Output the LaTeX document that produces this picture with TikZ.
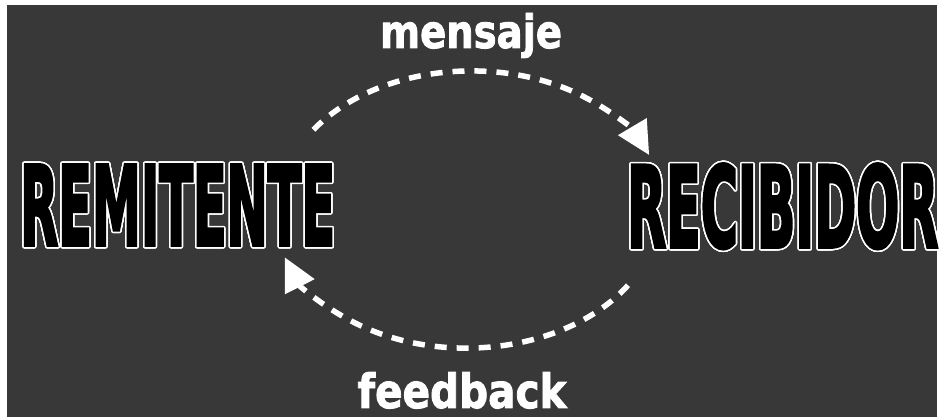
\documentclass[tikz,border=0pt]{standalone}
\usepackage{fontspec}
\usepackage{graphicx}
\usepackage{contour}
\usetikzlibrary{arrows.meta}

\newfontfamily\capsfont{DejaVu Sans Bold}[FakeBold=3.5]
\newfontfamily\labelfont{DejaVu Sans Bold}[FakeBold=2]
\definecolor{pizarra}{HTML}{383838}
\contourlength{1.5pt}
\contournumber{32}

\tikzset{
  actor/.style={inner sep=0pt, anchor=base west, text=black},
  rotulo/.style={inner sep=0pt, anchor=base, text=white},
  flujo/.style={white, line width=5.5pt, dash pattern=on 12pt off 10pt,
    -{Triangle[length=33pt,width=32pt]}}
}
\newcommand{\actortext}[3]{\contour{white}{\resizebox{#1}{#2}{\capsfont #3}}}

\begin{document}
\begin{tikzpicture}[x=1pt,y=1pt]
  \fill[white] (0,0) rectangle (941,419);
  \fill[pizarra] (7,2) rectangle (937,414);

  \node[actor] (remitente) at (20,174) {\actortext{315pt}{80pt}{REMITENTE}};
  \node[actor] (recibidor) at (627,172) {\actortext{311pt}{83pt}{RECIBIDOR}};

  \node[rotulo] (mensaje) at (471,371) {\resizebox{182pt}{35pt}{\labelfont mensaje}};
  \node[rotulo] (feedback) at (462,11) {\resizebox{209pt}{36pt}{\labelfont feedback}};

  % ida y vuelta
  \draw[flujo] ([shift={(-22,35)}]remitente.north east)
    arc[start angle=145, end angle=23, x radius=193, y radius=138];
  \draw[flujo] ([shift={(1,-35)}]recibidor.south west)
    arc[start angle=-33, end angle=-160, x radius=193, y radius=138];
\end{tikzpicture}
\end{document}
